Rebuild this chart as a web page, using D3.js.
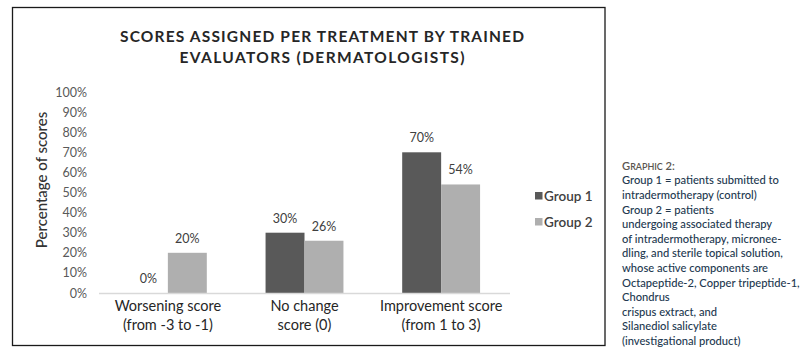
<!DOCTYPE html>
<html>
<head>
<meta charset="utf-8">
<script src="https://cdn.jsdelivr.net/npm/d3@7"></script>
<style>
  html, body { margin: 0; padding: 0; background: #fff; }
  svg { display: block; }
</style>
</head>
<body>
<svg id="chart" width="807" height="358"></svg>
<script>
const categories = ["Worsening score\n(from -3 to -1)", "No change\nscore (0)", "Improvement score\n(from 1 to 3)"];
const seriesNames = ["Group 1", "Group 2"];
const group1 = [0, 30, 70];
const group2 = [20, 26, 54];
const yTicks = [0, 10, 20, 30, 40, 50, 60, 70, 80, 90, 100];
const titleLines = ["SCORES ASSIGNED PER TREATMENT BY TRAINED", "EVALUATORS (DERMATOLOGISTS)"];
const yLabel = "Percentage of scores";
const noteLines = [
  "Group 1 = patients submitted to",
  "intradermotherapy (control)",
  "Group 2 = patients",
  "undergoing associated therapy",
  "of intradermotherapy, micronee-",
  "dling, and sterile topical solution,",
  "whose active components are",
  "Octapeptide-2, Copper tripeptide-1,",
  "Chondrus",
  "crispus extract, and",
  "Silanediol salicylate",
  "(investigational product)"
];

const colors = ["#595959", "#afafaf"];
const font = "Lato, 'Open Sans', sans-serif";
const svg = d3.select("#chart");

// frame
svg.append("rect").attr("x", 12.5).attr("y", 7.5).attr("width", 592.5).attr("height", 338)
  .attr("fill", "#fff").attr("stroke", "#1a1a1a").attr("stroke-width", 1.3);

// title
const tl = [42, 63];
titleLines.forEach((t, i) => {
  svg.append("text").attr("x", 322).attr("y", tl[i]).attr("text-anchor", "middle")
    .attr("font-family", font).attr("font-weight", 700).attr("font-size", 15.5)
    .attr("fill", "#262626")
    .attr("textLength", i === 0 ? 404 : 285).attr("lengthAdjust", "spacing")
    .text(t);
});

const x = d3.scaleBand().domain(categories).range([99, 510]).paddingInner(0.43).paddingOuter(0.219);
const xs = d3.scaleBand().domain(seriesNames).range([0, x.bandwidth()]);
const y = d3.scaleLinear().domain([0, 100]).range([293, 92]);

// y axis
const yAxis = svg.append("g").attr("transform", "translate(99,0)")
  .call(d3.axisLeft(y).tickValues(yTicks).tickSize(0).tickPadding(12).tickFormat(d => d + "%"));
yAxis.select(".domain").remove();
yAxis.selectAll("text").attr("font-family", font).attr("font-size", 12.5).attr("fill", "#595959");

// y label
svg.append("text").attr("transform", "translate(47,180) rotate(-90)").attr("text-anchor", "middle")
  .attr("font-family", font).attr("font-size", 15).attr("font-weight", 500).attr("fill", "#333")
  .text(yLabel);

// bars
const series = [group1, group2];
const data = [];
categories.forEach((c, i) => series.forEach((s, j) => data.push({c, g: seriesNames[j], v: s[i], j})));
svg.append("g").selectAll("rect").data(data).join("rect")
  .attr("x", d => x(d.c) + xs(d.g)).attr("width", xs.bandwidth())
  .attr("y", d => y(d.v)).attr("height", d => y(0) - y(d.v))
  .attr("fill", d => colors[d.j]);

// data labels
svg.append("g").selectAll("text").data(data).join("text")
  .attr("x", d => x(d.c) + xs(d.g) + xs.bandwidth() / 2)
  .attr("y", d => y(d.v) - 10)
  .attr("text-anchor", "middle")
  .attr("font-family", font).attr("font-size", 12.5).attr("fill", "#404040")
  .text(d => d.v + "%");

// baseline
svg.append("line").attr("x1", 99).attr("x2", 510).attr("y1", 293.5).attr("y2", 293.5)
  .attr("stroke", "#d9d9d9").attr("stroke-width", 1.5);

// category labels
categories.forEach(c => {
  c.split("\n").forEach((t, k) => {
    svg.append("text").attr("x", x(c) + x.bandwidth() / 2).attr("y", 311 + k * 19)
      .attr("text-anchor", "middle").attr("font-family", font).attr("font-size", 14.5)
      .attr("fill", "#262626").text(t);
  });
});

// legend
const lg = svg.append("g");
seriesNames.forEach((n, i) => {
  const cy = 196 + i * 26;
  lg.append("rect").attr("x", 535).attr("y", cy - 4).attr("width", 7.5).attr("height", 7.5).attr("fill", colors[i]);
  lg.append("text").attr("x", 544).attr("y", cy + 5).attr("font-family", font).attr("font-size", 13.5)
    .attr("font-weight", 600).attr("fill", "#404040").text(n);
});

// note
const note = svg.append("g").attr("font-family", font);
const noteTexts = noteLines.map((t, i) =>
  note.append("text").attr("x", 622).attr("y", 169.7 + (i + 1) * 14.6)
    .attr("font-size", 12).attr("font-weight", 500).attr("fill", "#22384f").text(t));
// fit the longest line to the reference width (177 px)
const longest = d3.max(noteTexts, t => t.node().getComputedTextLength());
const fs = Math.min(12, 12 * 178 / longest);
noteTexts.forEach(t => t.attr("font-size", fs));
const nh = note.append("text").attr("x", 622).attr("y", 169.7).attr("fill", "#5a5550")
  .attr("font-size", fs).attr("font-weight", 600);
nh.append("tspan").text("G");
nh.append("tspan").attr("font-size", fs * 0.8).text("RAPHIC");
nh.append("tspan").text(" 2:");
</script>
</body>
</html>
